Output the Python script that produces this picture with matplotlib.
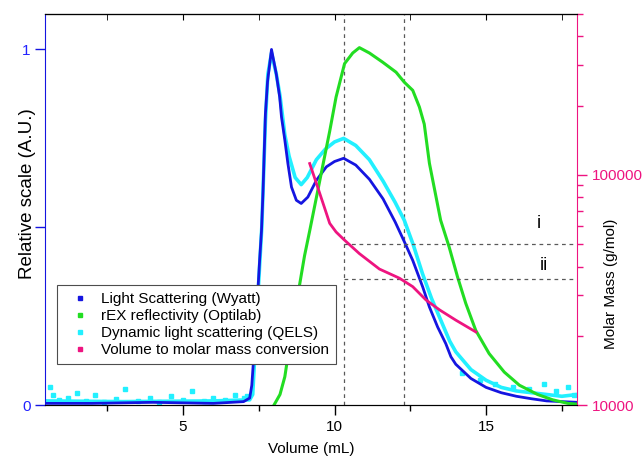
import matplotlib.pyplot as plt
from matplotlib.lines import Line2D
from matplotlib.ticker import LogLocator, NullFormatter

plt.rcParams['font.family'] = ['Liberation Sans', 'DejaVu Sans']

# Light Scattering (Wyatt)
ls_x = [0.5, 2.0, 4.0, 6.0, 7.0, 7.2, 7.27, 7.37, 7.47, 7.53, 7.59, 7.64, 7.72, 7.79, 7.92,
        8.08, 8.19, 8.25, 8.36, 8.46, 8.58, 8.74, 8.9, 9.12, 9.4, 9.73, 10.0, 10.3, 10.7,
        11.15, 11.6, 12.0, 12.3, 12.58, 12.91, 13.13, 13.4, 13.67, 13.84, 14.0, 14.5, 15.0,
        15.5, 16.0, 16.5, 17.0, 17.5, 18.0]
ls_y = [0.005, 0.005, 0.008, 0.005, 0.01, 0.02, 0.056, 0.18, 0.32, 0.41, 0.49, 0.6, 0.82, 0.91, 1.0,
        0.93, 0.866, 0.81, 0.745, 0.68, 0.613, 0.576, 0.567, 0.585, 0.632, 0.67, 0.685, 0.694, 0.675,
        0.635, 0.58, 0.515, 0.46, 0.407, 0.332, 0.276, 0.22, 0.173, 0.136, 0.115, 0.075, 0.05,
        0.035, 0.025, 0.018, 0.012, 0.01, 0.008]

# rEX reflectivity (Optilab)
rex_x = [8.0, 8.2, 8.36, 8.52, 8.68, 8.85, 9.01, 9.18, 9.51, 9.84, 10.05, 10.33, 10.6, 10.82,
         11.15, 11.59, 12.03, 12.3, 12.58, 12.8, 12.96, 13.13, 13.5, 13.78, 14.06, 14.33, 14.66,
         15.1, 15.6, 16.1, 16.7, 17.2, 17.7, 18.0]
rex_y = [0.0, 0.03, 0.08, 0.17, 0.26, 0.34, 0.42, 0.49, 0.63, 0.77, 0.866, 0.96, 0.99, 1.005,
         0.99, 0.964, 0.936, 0.908, 0.885, 0.838, 0.79, 0.68, 0.52, 0.445, 0.36, 0.286, 0.21,
         0.145, 0.093, 0.056, 0.03, 0.015, 0.005, 0.003]

# Dynamic light scattering (QELS)
qels_x = [0.5, 3.0, 6.0, 7.2, 7.3, 7.5, 7.6, 7.72, 7.8, 7.92, 8.08, 8.2, 8.36, 8.5, 8.7, 8.9, 9.1,
          9.4, 9.7, 10.0, 10.3, 10.7, 11.15, 11.6, 12.0, 12.3, 12.6, 12.9, 13.2, 13.5, 13.8,
          14.0, 14.5, 15.0, 15.5, 16.0, 16.5, 17.0, 17.5, 18.0]
qels_y = [0.012, 0.01, 0.012, 0.015, 0.03, 0.35, 0.5, 0.8, 0.93, 0.99, 0.93, 0.87, 0.76, 0.7, 0.64,
          0.62, 0.64, 0.69, 0.72, 0.74, 0.75, 0.73, 0.69, 0.63, 0.57, 0.52, 0.45, 0.37, 0.3,
          0.24, 0.18, 0.15, 0.1, 0.07, 0.05, 0.04, 0.035, 0.03, 0.025, 0.03]
qels_noise_x = [0.6, 0.7, 0.9, 1.2, 1.5, 1.8, 2.1, 2.4, 2.8, 3.1, 3.5, 3.9, 4.2, 4.6, 5.0, 5.3,
                5.7, 6.0, 6.4, 6.7, 7.0, 7.1, 14.2, 14.8, 15.3, 15.9, 16.4, 16.9, 17.3, 17.7, 17.9]
qels_noise_y = [0.05, 0.03, 0.015, 0.02, 0.035, 0.012, 0.03, 0.01, 0.018, 0.045, 0.012, 0.02,
                0.01, 0.025, 0.015, 0.04, 0.012, 0.02, 0.015, 0.03, 0.02, 0.025, 0.09, 0.07,
                0.06, 0.05, 0.045, 0.06, 0.04, 0.05, 0.03]

# Volume to molar mass conversion (right axis)
mm_x = [9.18, 9.4, 9.62, 9.84, 10.05, 10.3, 10.82, 11.48, 12.14, 12.58, 13.02, 13.47, 14.0, 14.66]
mm_y = [112000, 92000, 75300, 61600, 56500, 52500, 45500, 39000, 35600, 32700, 28600, 25900,
        23400, 20800]

# marker lines
v_lines = [10.3, 12.3]
h_levels = [50000, 35300]
h_labels = ['i', 'ii']
h_label_x = [16.74, 16.9]
h_label_y = [0.51, 0.393]

c_blue = '#1515e0'
c_green = '#22dd22'
c_cyan = '#22f0ff'
c_pink = '#ee1480'
c_tick_blue = '#2222ff'

fig = plt.figure(figsize=(6.44, 4.62), dpi=100)
ax = fig.add_axes([0.070, 0.123, 0.826, 0.847])

ax.plot(qels_x, qels_y, color=c_cyan, lw=2.6, zorder=2)
ax.plot(qels_noise_x, qels_noise_y, 's', color=c_cyan, ms=2.2, zorder=2)
ax.plot(ls_x, ls_y, color=c_blue, lw=2.0, zorder=3)
ax.plot(rex_x, rex_y, color=c_green, lw=2.2, zorder=3)

for xv in v_lines:
    ax.axvline(xv, color='0.35', lw=0.9, ls=(0, (3, 3)), zorder=1)

ax.set_xlim(0.45, 18)
ax.set_ylim(0, 1.1)
ax.set_xticks([5, 10, 15])
ax.set_xticks([2.5, 7.5, 12.5, 17.5], minor=True)
ax.set_yticks([0, 0.5, 1])
ax.set_yticklabels(['0', '', '1'])
ax.tick_params(axis='x', which='major', direction='out', length=7, width=1, labelsize=11)
ax.tick_params(axis='x', which='minor', direction='out', length=4, width=1)
ax.tick_params(axis='y', direction='out', length=7, width=1, colors=c_blue,
               labelcolor=c_tick_blue, labelsize=11)
ax.spines['left'].set_color(c_blue)
ax.spines['right'].set_visible(False)
ax.set_xlabel('Volume (mL)', fontsize=11, labelpad=6)
ax.set_ylabel('Relative scale (A.U.)', fontsize=13.5)
ax.yaxis.set_label_coords(-0.018, 0.54)

top = ax.secondary_xaxis('top')
top.set_xticks([5, 10, 15])
top.set_xticks([2.5, 7.5, 12.5, 17.5], minor=True)
top.tick_params(axis='x', which='both', direction='in', length=4, labeltop=False)

ax2 = ax.twinx()
ax2.plot(mm_x, mm_y, color=c_pink, lw=2.0, zorder=3)
ax2.set_yscale('log')
ax2.set_ylim(10000, 500000)
ax2.set_yticks([10000, 100000])
ax2.set_yticklabels(['10000', '100000'])
ax2.yaxis.set_minor_locator(LogLocator(base=10, subs=range(2, 10)))
ax2.yaxis.set_minor_formatter(NullFormatter())
ax2.tick_params(axis='y', which='major', direction='out', length=7, width=1, colors=c_pink,
                labelcolor=c_pink, labelsize=11)
ax2.tick_params(axis='y', which='minor', direction='out', length=4, width=1, colors=c_pink)
ax2.spines['right'].set_color(c_pink)
ax2.spines['left'].set_visible(False)
ax2.set_ylabel('Molar Mass (g/mol)', fontsize=11)
ax2.yaxis.set_label_coords(1.051, 0.31)

for lev in h_levels:
    ax2.plot([v_lines[0], 18], [lev, lev], color='0.35', lw=0.9, ls=(0, (3, 3)), zorder=1)
for lx, ly, txt in zip(h_label_x, h_label_y, h_labels):
    ax.text(lx, ly, txt, fontsize=13, ha='center', va='center')

handles = [Line2D([], [], color=c, marker='s', ls='none', ms=2.5)
           for c in [c_blue, c_green, c_cyan, c_pink]]
labels = ['Light Scattering (Wyatt)', 'rEX reflectivity (Optilab)',
          'Dynamic light scattering (QELS)', 'Volume to molar mass conversion']
leg = ax2.legend(handles, labels, loc='upper left', bbox_to_anchor=(0.022, 0.307),
                 borderaxespad=0, fontsize=11, fancybox=False, framealpha=1,
                 edgecolor='0.3', handlelength=2.1, handletextpad=0.33,
                 borderpad=0.45, labelspacing=0.2)
leg.get_frame().set_linewidth(0.8)

fig.savefig('out.png', dpi=100)
